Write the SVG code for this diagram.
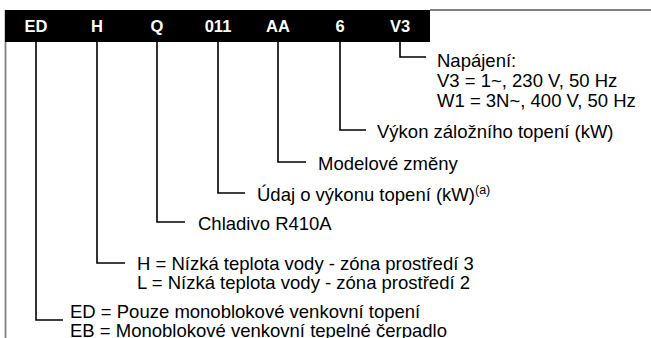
<svg xmlns="http://www.w3.org/2000/svg" width="651" height="338" viewBox="0 0 651 338">
<style>
.hd{font-family:"Liberation Sans",Arial,sans-serif;font-weight:bold;font-size:16.5px;fill:#fff;text-anchor:middle}
.t{font-family:"Liberation Sans",Arial,sans-serif;font-size:18.5px;fill:#000}
.sup{font-size:12.5px}
.c{fill:none;stroke:#000;stroke-width:1.6}
.f{fill:none;stroke:#808080;stroke-width:1.8}
</style>
<rect width="651" height="338" fill="#fff"/>
<g id="frame">
<line class="f" x1="5.5" y1="10" x2="5.5" y2="338"/>
<line class="f" x1="430" y1="10" x2="651" y2="10"/>
<rect x="5" y="10" width="425" height="32" fill="#000"/>
</g>
<g id="header">
<text class="hd" x="36" y="32">ED</text>
<text class="hd" x="97" y="32">H</text>
<text class="hd" x="157" y="32">Q</text>
<text class="hd" x="218" y="32">011</text>
<text class="hd" x="278" y="32">AA</text>
<text class="hd" x="340" y="32">6</text>
<text class="hd" x="400" y="32">V3</text>
</g>
<g id="connectors">
<polyline class="c" points="400,42 400,57 426,57"/>
<polyline class="c" points="340,42 340,130 366,130"/>
<polyline class="c" points="278,42 278,162 306,162"/>
<polyline class="c" points="218,42 218,193 245,193"/>
<polyline class="c" points="157,42 157,222 185,222"/>
<polyline class="c" points="97,42 97,263 125,263"/>
<polyline class="c" points="36,42 36,320 63,320"/>
</g>
<g id="n-v3">
<text class="t" x="437" y="66.5">Napájení:</text>
<text class="t" x="437" y="86.5">V3 = 1~, 230 V, 50 Hz</text>
<text class="t" x="437" y="106.5">W1 = 3N~, 400 V, 50 Hz</text>
</g>
<g id="n-6"><text class="t" x="377" y="137.5">Výkon záložního topení (kW)</text></g>
<g id="n-aa"><text class="t" x="318" y="169.5">Modelové změny</text></g>
<g id="n-011"><text class="t" x="257" y="200.5">Údaj o výkonu topení (kW)<tspan class="sup" dy="-7">(a)</tspan></text></g>
<g id="n-q"><text class="t" x="198" y="229.5">Chladivo R410A</text></g>
<g id="n-h">
<text class="t" x="137" y="269.5">H = Nízká teplota vody - zóna prostředí 3</text>
<text class="t" x="137" y="288.5">L = Nízká teplota vody - zóna prostředí 2</text>
</g>
<g id="n-ed">
<text class="t" x="70" y="317.5">ED = Pouze monoblokové venkovní topení</text>
<text class="t" x="70" y="336.5">EB = Monoblokové venkovní tepelné čerpadlo</text>
</g>
</svg>
